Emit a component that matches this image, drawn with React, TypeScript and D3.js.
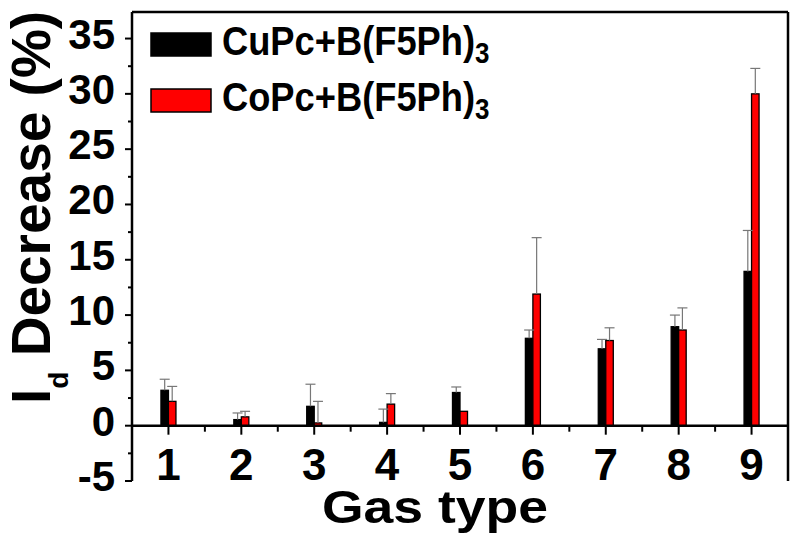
import React from 'react';
import * as d3 from 'd3';

// values
const gasTypes = [1, 2, 3, 4, 5, 6, 7, 8, 9];
const cuValues = [3.2, 0.55, 1.75, 0.3, 3.0, 7.9, 6.95, 8.95, 13.95];
const cuErrors = [1.0, 0.6, 2.0, 1.2, 0.5, 0.75, 0.85, 1.05, 3.7];
const coValues = [2.2, 0.8, 0.25, 1.95, 1.3, 11.9, 7.7, 8.65, 30.0];
const coErrors = [1.35, 0.5, 1.95, 0.95, 0, 5.1, 1.15, 2.0, 2.3];
const yTicks = [-5, 0, 5, 10, 15, 20, 25, 30, 35];
const legendLabels = ['CuPc+B(F5Ph)', 'CoPc+B(F5Ph)'];

const width = 800;
const height = 543;
const font = '"Liberation Sans", Arial, sans-serif';

const App = () => {
  const x = d3.scaleLinear().domain([0.5, 9.5]).range([132, 788]);
  const y = d3.scaleLinear().domain([-5, 37.4]).range([481, 12]);
  const barW = x(1.103) - x(1);

  const series = [
    { values: cuValues, errors: cuErrors, fill: '#000000', offset: -1 },
    { values: coValues, errors: coErrors, fill: '#ff0000', offset: 0 },
  ];

  const minorY = d3.range(-2.5, 37.5, 5);
  const minorX = d3.range(1.5, 9.5, 1);

  return (
    <svg width={width} height={height} style={{ position: 'absolute', left: 0, top: 0 }} fontFamily={font} fontWeight="bold">
      <rect width={width} height={height} fill="#fff" />

      {/* bars */}
      {series.map((s, si) =>
        gasTypes.map((g, i) => {
          const bx = x(g) + s.offset * barW;
          return (
            <rect key={`b${si}-${i}`} x={bx} y={y(s.values[i])} width={barW}
              height={y(0) - y(s.values[i])} fill={s.fill} stroke="#000" strokeWidth={1.3} />
          );
        })
      )}

      {/* error bars (upper only) */}
      {series.map((s, si) =>
        gasTypes.map((g, i) => {
          if (!s.errors[i]) return null;
          const cx = x(g) + s.offset * barW + barW / 2;
          const top = y(s.values[i] + s.errors[i]);
          return (
            <g key={`e${si}-${i}`} stroke="#777" strokeWidth={1.2}>
              <line x1={cx} x2={cx} y1={y(s.values[i])} y2={top} />
              <line x1={cx - 5} x2={cx + 5} y1={top} y2={top} />
            </g>
          );
        })
      )}

      {/* frame */}
      <g stroke="#000" strokeWidth={2.5} fill="none">
        <line x1={x(0.5)} x2={x(0.5)} y1={y(37.4)} y2={y(-5)} />
        <line x1={x(9.5)} x2={x(9.5)} y1={y(37.4)} y2={y(-5)} />
        <line x1={x(0.5)} x2={x(9.5)} y1={y(37.4)} y2={y(37.4)} />
        <line x1={x(0.5)} x2={x(9.5)} y1={y(0)} y2={y(0)} />
      </g>

      {/* ticks */}
      <g stroke="#000" strokeWidth={2}>
        {yTicks.map((t) => (
          <line key={`yt${t}`} x1={x(0.5) - 7} x2={x(0.5)} y1={y(t)} y2={y(t)} />
        ))}
        {minorY.map((t) => (
          <line key={`ym${t}`} x1={x(0.5) - 4} x2={x(0.5)} y1={y(t)} y2={y(t)} />
        ))}
        {gasTypes.map((g) => (
          <line key={`xt${g}`} x1={x(g)} x2={x(g)} y1={y(0)} y2={y(0) + 9} />
        ))}
        {minorX.map((g) => (
          <line key={`xm${g}`} x1={x(g)} x2={x(g)} y1={y(0)} y2={y(0) + 6} />
        ))}
      </g>

      {/* tick labels */}
      {yTicks.map((t) => (
        <text key={`yl${t}`} x={115} y={y(t) + 10} textAnchor="end" fontSize={42}>{t}</text>
      ))}
      {gasTypes.map((g) => (
        <text key={`xl${g}`} x={x(g)} y={480} textAnchor="middle" fontSize={44}>{g}</text>
      ))}

      {/* axis titles */}
      <text x={322} y={523} fontSize={46} textLength={226} lengthAdjust="spacingAndGlyphs">Gas type</text>
      <text transform="translate(50,404) rotate(-90)" fontSize={55}>
        <tspan>I</tspan>
        <tspan fontSize={28} dy={18}>d</tspan>
        <tspan dy={-18}> Decrease (%)</tspan>
      </text>

      {/* legend */}
      {legendLabels.map((label, i) => (
        <g key={`lg${i}`}>
          <rect x={151} y={33 + i * 56} width={60} height={23} fill={series[i].fill} stroke="#000" strokeWidth={1.5} />
          <text transform={`translate(222,${55 + i * 56}) scale(1,1.1)`} fontSize={36.3}>
            {label}
            <tspan fontSize={26} dy={7}>3</tspan>
          </text>
        </g>
      ))}
    </svg>
  );
};

export default App;
